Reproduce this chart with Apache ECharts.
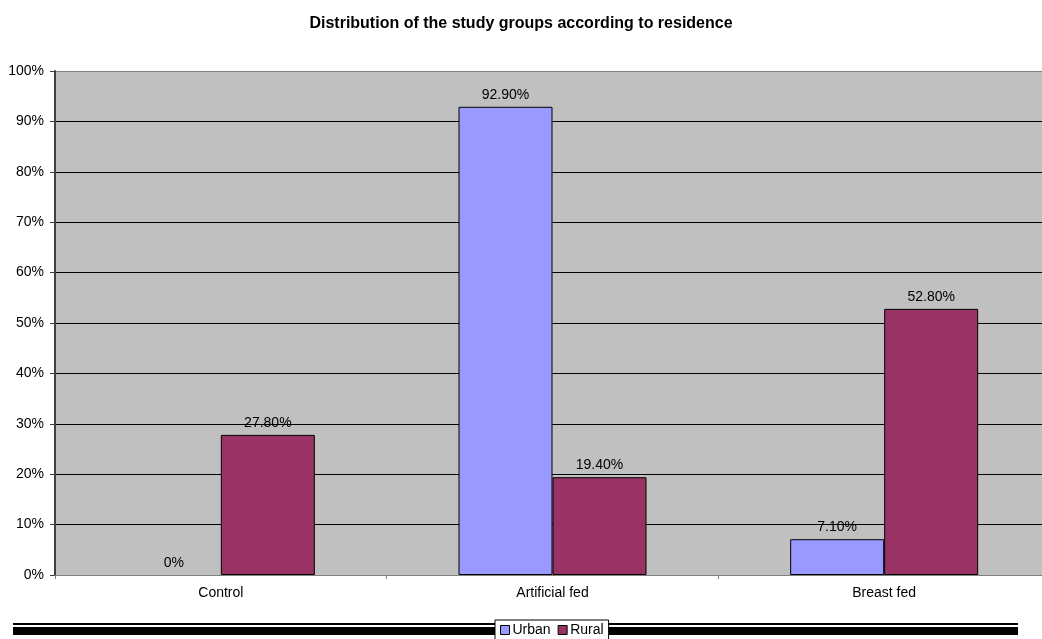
<!DOCTYPE html>
<html>
<head>
<meta charset="utf-8">
<script src="https://cdn.jsdelivr.net/npm/echarts@6/dist/echarts.min.js"></script>
<style>
  html, body { margin: 0; padding: 0; background: #fff; }
  #chart { width: 1042px; height: 639px; }
</style>
</head>
<body>
<div id="chart"></div>
<script>
// Residence by study group (percent of each group)
const categories = ['Control', 'Artificial fed', 'Breast fed'];
const urbanValues = [0, 92.9, 7.1];
const ruralValues = [27.8, 19.4, 52.8];
const urbanLabels = ['0%', '92.90%', '7.10%'];
const ruralLabels = ['27.80%', '19.40%', '52.80%'];
const yTicks = [0, 10, 20, 30, 40, 50, 60, 70, 80, 90, 100];

const FONT = 'Liberation Sans, Arial, sans-serif';

const chart = echarts.init(document.getElementById('chart'), null, { renderer: 'canvas' });

// grid lines: black inside the plot, grey on the outer frame
const splitColors = yTicks.map((t, i) => (i === 0 || i === yTicks.length - 1) ? '#808080' : '#000000');

// a zero-height bar keeps its label but draws no outline
const barData = (values) => values.map(v => v === 0 ? { value: v, itemStyle: { borderWidth: 0 } } : v);

const valueLabel = (labels) => ({
  show: true,
  position: 'top',
  distance: 5,
  color: '#000',
  fontFamily: FONT,
  fontSize: 14,
  formatter: (p) => labels[p.dataIndex]
});

chart.setOption({
  animation: false,
  backgroundColor: '#ffffff',
  title: {
    text: 'Distribution of the study groups according to residence',
    left: 'center',
    top: 11,
    textStyle: { fontFamily: FONT, fontSize: 16, fontWeight: 'bold', color: '#000' }
  },
  legend: {
    data: ['Urban', 'Rural'],
    left: 495,
    top: 620,
    orient: 'horizontal',
    backgroundColor: '#ffffff',
    borderColor: '#000000',
    borderWidth: 1,
    padding: [3, 5, 6, 5],
    itemWidth: 9,
    itemHeight: 9,
    itemGap: 7,
    icon: 'rect',
    itemStyle: { borderColor: '#000', borderWidth: 1 },
    textStyle: { fontFamily: FONT, fontSize: 14, color: '#000', padding: [0, 0, 0, -2] }
  },
  graphic: [
    // double rule running under the legend
    { type: 'rect', z: -1, shape: { x: 13, y: 623, width: 482, height: 2 }, style: { fill: '#000' } },
    { type: 'rect', z: -1, shape: { x: 13, y: 627, width: 482, height: 8 }, style: { fill: '#000' } },
    { type: 'rect', z: -1, shape: { x: 609, y: 623, width: 409, height: 2 }, style: { fill: '#000' } },
    { type: 'rect', z: -1, shape: { x: 609, y: 627, width: 409, height: 8 }, style: { fill: '#000' } }
  ],
  grid: {
    left: 55,
    top: 71,
    bottom: 64,
    right: -8,
    outerBoundsMode: 'none',
    containLabel: false,
    show: true,
    backgroundColor: '#C0C0C0',
    borderWidth: 0
  },
  xAxis: {
    type: 'category',
    data: categories,
    axisLine: { lineStyle: { color: '#808080', width: 1 } },
    axisTick: { show: true, inside: false, length: 4, alignWithLabel: false, lineStyle: { color: '#808080' } },
    axisLabel: { fontFamily: FONT, fontSize: 14, color: '#000', margin: 11 }
  },
  yAxis: {
    type: 'value',
    min: 0,
    max: 100,
    interval: 10,
    axisLine: { show: true, lineStyle: { color: '#404040', width: 2 } },
    axisTick: { show: true, length: 5, lineStyle: { color: '#404040' } },
    axisLabel: { fontFamily: FONT, fontSize: 14, color: '#000', margin: 11, formatter: '{value}%' },
    splitLine: { show: true, lineStyle: { color: splitColors, width: 1 } }
  },
  series: [
    {
      name: 'Urban',
      type: 'bar',
      data: barData(urbanValues),
      barWidth: 94,
      barGap: '0%',
      itemStyle: { color: '#9999FF', borderColor: '#000', borderWidth: 1 },
      label: valueLabel(urbanLabels),
      z: 3
    },
    {
      name: 'Rural',
      type: 'bar',
      data: barData(ruralValues),
      barWidth: 94,
      barGap: '0%',
      itemStyle: { color: '#993366', borderColor: '#000', borderWidth: 1 },
      label: valueLabel(ruralLabels),
      z: 3
    }
  ]
});
</script>
</body>
</html>
